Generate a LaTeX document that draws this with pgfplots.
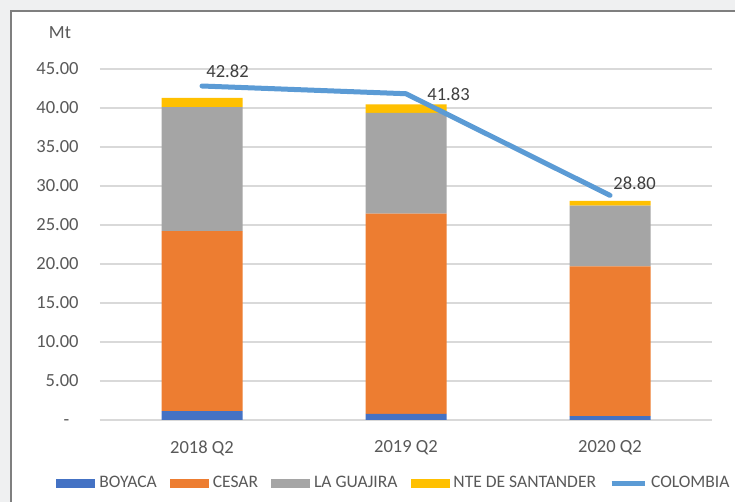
\documentclass[border=0pt]{standalone}
\usepackage{pgfplots}
\pgfplotsset{compat=1.18}
\usepackage{fontspec}
\setmainfont{Carlito}

\definecolor{boy}{HTML}{4472C4}
\definecolor{ces}{HTML}{ED7D31}
\definecolor{gua}{HTML}{A5A5A5}
\definecolor{nte}{HTML}{FFC000}
\definecolor{col}{HTML}{5B9BD5}
\definecolor{txt}{HTML}{595959}
\definecolor{lbl}{HTML}{404040}
\definecolor{grd}{HTML}{D9D9D9}
\definecolor{bg}{HTML}{EFF0F1}
\definecolor{frm}{HTML}{7F7F7F}

\pgfplotsset{
  sqleg/.style={legend image code/.code={\fill[##1] (0bp,-2.25bp) rectangle (19.5bp,2.25bp);}},
  lineleg/.style={legend image code/.code={\draw[##1] (0bp,0bp) -- (16.5bp,0bp);}},
  base/.style={
    at={(50bp,41bp)}, anchor=south west,
    scale only axis, width=306bp, height=175.5bp,
    xmin=-0.5, xmax=2.5, ymin=0, ymax=45,
  },
}
\newcommand{\fnt}{\fontsize{9.3}{11}\selectfont}

\begin{document}
\begin{tikzpicture}
\useasboundingbox (0,0) rectangle (367.5bp,251bp);
\fill[bg] (0,0) rectangle (367.5bp,251bp);
\fill[white] (5.5bp,0) rectangle (367.5bp,245.5bp);
\draw[frm, line width=1bp] (5.5bp,-1bp) -- (5.5bp,245.5bp) -- (368bp,245.5bp);

\node[txt, font=\fnt] at (30bp,234.5bp) {Mt};

\begin{axis}[base,
  ybar stacked, bar width=40.5bp,
  axis x line*=bottom, axis y line*=left,
  x axis line style={grd, line width=0.9bp, -},
  y axis line style={draw=none},
  major tick length=0pt,
  ymajorgrids, grid style={grd, line width=0.75bp},
  xtick={0,1,2}, xticklabels={2018 Q2,2019 Q2,2020 Q2},
  ytick={0,5,10,15,20,25,30,35,40,45},
  yticklabels={{-\phantom{0}},5.00,10.00,15.00,20.00,25.00,30.00,35.00,40.00,45.00},
  yticklabel style={anchor=east, inner sep=0pt, xshift=-10.5bp},
  xticklabel style={anchor=north, inner sep=0pt, yshift=-10bp},
  ticklabel style={font=\fnt, text=txt},
  /pgf/number format/assume math mode=true,
  legend style={at={(0.482,-0.18)}, anchor=center, draw=none, fill=none,
    font=\fontsize{8.8}{10}\selectfont, text=txt, legend columns=-1,
    /tikz/every even column/.append style={column sep=4.5bp}},
  legend cell align=left,
]
\addplot[fill=boy, draw=none, sqleg] coordinates {(0,1.15) (1,0.77) (2,0.50)};
\addlegendentry{BOYACA}
\addplot[fill=ces, draw=none, sqleg] coordinates {(0,23.05) (1,25.70) (2,19.20)};
\addlegendentry{CESAR}
\addplot[fill=gua, draw=none, sqleg] coordinates {(0,15.90) (1,12.90) (2,7.80)};
\addlegendentry{LA GUAJIRA}
\addplot[fill=nte, draw=none, sqleg] coordinates {(0,1.20) (1,1.10) (2,0.60)};
\addlegendentry{NTE DE SANTANDER}
\addlegendimage{lineleg, col, line width=2.5bp}
\addlegendentry{COLOMBIA}
\end{axis}

\begin{axis}[base, hide axis, clip=false]
\addplot[col, line width=2.5bp, line cap=round, line join=round] coordinates {(0,42.82) (1,41.83) (2,28.80)};
\node[lbl, font=\fnt, anchor=south west, inner sep=0pt] at (axis cs:0,42.82) [xshift=2bp, yshift=4bp] {42.82};
\node[lbl, font=\fnt, anchor=west, inner sep=0pt] at (axis cs:1,41.83) [xshift=10.5bp, yshift=-0.5bp] {41.83};
\node[lbl, font=\fnt, anchor=south west, inner sep=0pt] at (axis cs:2,28.80) [xshift=1.5bp, yshift=2.5bp] {28.80};
\end{axis}
\end{tikzpicture}
\end{document}
